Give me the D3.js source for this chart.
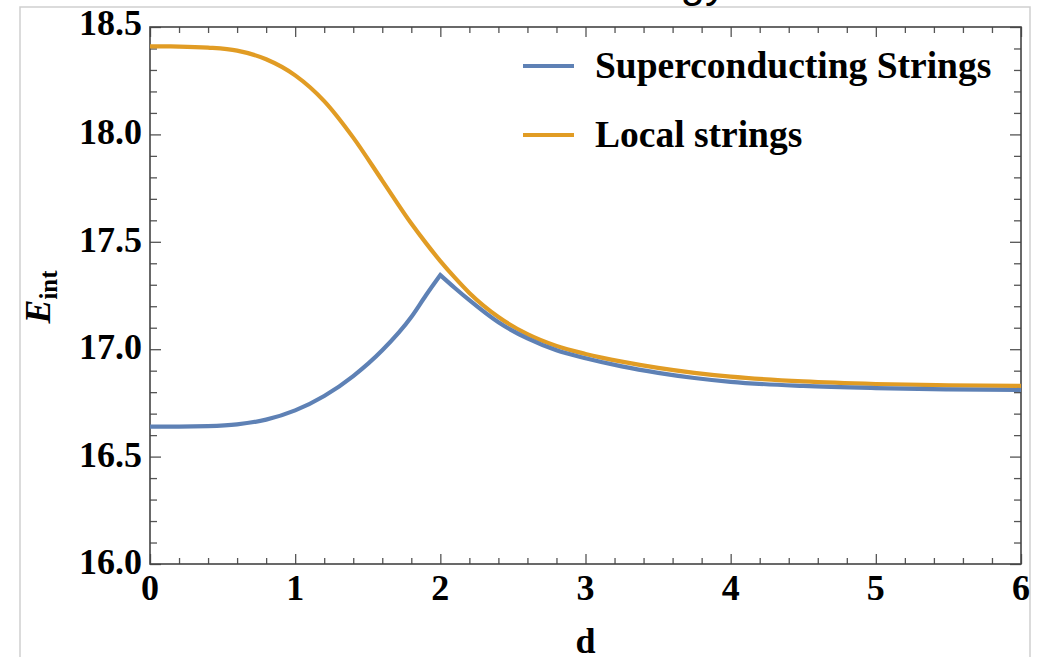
<!DOCTYPE html>
<html>
<head>
<meta charset="utf-8">
<script src="https://cdn.jsdelivr.net/npm/d3@7"></script>
<style>
  html, body { margin: 0; padding: 0; background: #fff; }
  svg { display: block; }
</style>
</head>
<body>
<svg id="chart" width="1048" height="657"></svg>
<script>
// ---- data ----
const dValues = [0, 0.2, 0.4, 0.6, 0.8, 1.0, 1.2, 1.4, 1.6, 1.8, 1.9, 2.0, 2.1, 2.2, 2.4, 2.6, 2.8, 3.0, 3.25, 3.5, 3.75, 4.0, 4.5, 5.0, 5.5, 6.0];
const superconducting = [16.640, 16.640, 16.642, 16.650, 16.672, 16.715, 16.782, 16.875, 16.995, 17.150, 17.250, 17.345, 17.285, 17.228, 17.125, 17.050, 16.995, 16.958, 16.920, 16.890, 16.866, 16.848, 16.829, 16.819, 16.813, 16.810];
const localStrings =    [18.410, 18.409, 18.404, 18.390, 18.350, 18.275, 18.155, 17.985, 17.785, 17.585, 17.495, 17.410, 17.333, 17.262, 17.150, 17.070, 17.015, 16.978, 16.942, 16.913, 16.890, 16.872, 16.850, 16.838, 16.832, 16.829];
const seriesNames = ["Superconducting Strings", "Local strings"];
const xTickValues = [0, 1, 2, 3, 4, 5, 6];
const yTickValues = [16.0, 16.5, 17.0, 17.5, 18.0, 18.5];
const titleText = "Energy";
const xLabel = "d";

// ---- layout ----
const svg = d3.select("#chart");
const pLeft = 150, pRight = 1021, pTop = 27, pBottom = 564;
const x = d3.scaleLinear().domain([0, 6]).range([pLeft, pRight]);
const y = d3.scaleLinear().domain([16, 18.5]).range([pBottom, pTop]);
const colors = ["#5E81B5", "#E19C24"];
const serif = "'Liberation Serif', 'Times New Roman', serif";

// outer light frame
svg.append("path")
  .attr("d", `M20,657 L20,7 L1030,7 L1030,657`)
  .attr("fill", "none").attr("stroke", "#cfcfcf").attr("stroke-width", 1.5);

// cropped title (only descenders visible)
svg.append("text")
  .attr("x", 727).attr("y", -3)
  .attr("text-anchor", "end")
  .attr("font-family", "'Liberation Sans', Arial, sans-serif")
  .attr("font-size", 44)
  .text(titleText);

// ticks via d3 axes
const xMinor = d3.range(0, 6.0001, 0.2).map(v => +v.toFixed(2)).filter(v => !xTickValues.some(t => Math.abs(t - v) < 1e-6));
const yMinor = d3.range(16, 18.5001, 0.1).map(v => +v.toFixed(2)).filter(v => !yTickValues.some(t => Math.abs(t - v) < 1e-6));

function tickStyle(g) {
  g.select(".domain").remove();
  g.selectAll(".tick line").attr("stroke", "#555").attr("stroke-width", 1.3);
  g.selectAll(".tick text").remove();
}
// bottom
svg.append("g").attr("transform", `translate(0,${pBottom})`)
  .call(d3.axisTop(x).tickValues(xTickValues).tickSizeInner(10).tickSizeOuter(0)).call(tickStyle);
svg.append("g").attr("transform", `translate(0,${pBottom})`)
  .call(d3.axisTop(x).tickValues(xMinor).tickSizeInner(6).tickSizeOuter(0)).call(tickStyle);
// top
svg.append("g").attr("transform", `translate(0,${pTop})`)
  .call(d3.axisBottom(x).tickValues(xTickValues).tickSizeInner(10).tickSizeOuter(0)).call(tickStyle);
svg.append("g").attr("transform", `translate(0,${pTop})`)
  .call(d3.axisBottom(x).tickValues(xMinor).tickSizeInner(6).tickSizeOuter(0)).call(tickStyle);
// left
svg.append("g").attr("transform", `translate(${pLeft},0)`)
  .call(d3.axisRight(y).tickValues(yTickValues).tickSizeInner(11).tickSizeOuter(0)).call(tickStyle);
svg.append("g").attr("transform", `translate(${pLeft},0)`)
  .call(d3.axisRight(y).tickValues(yMinor).tickSizeInner(7).tickSizeOuter(0)).call(tickStyle);
// right
svg.append("g").attr("transform", `translate(${pRight},0)`)
  .call(d3.axisLeft(y).tickValues(yTickValues).tickSizeInner(11).tickSizeOuter(0)).call(tickStyle);
svg.append("g").attr("transform", `translate(${pRight},0)`)
  .call(d3.axisLeft(y).tickValues(yMinor).tickSizeInner(7).tickSizeOuter(0)).call(tickStyle);

// frame
svg.append("rect")
  .attr("x", pLeft).attr("y", pTop).attr("width", pRight - pLeft).attr("height", pBottom - pTop)
  .attr("fill", "none").attr("stroke", "#444").attr("stroke-width", 1.6);

// tick labels
svg.append("g").selectAll("text").data(xTickValues).join("text")
  .attr("x", d => x(d)).attr("y", 600)
  .attr("text-anchor", "middle")
  .attr("font-family", serif).attr("font-weight", "bold").attr("font-size", 36)
  .text(d => d3.format("d")(d));
svg.append("g").selectAll("text").data(yTickValues).join("text")
  .attr("x", pLeft - 8).attr("y", d => y(d) + (d === 18.5 ? 8 : 10))
  .attr("text-anchor", "end")
  .attr("font-family", serif).attr("font-weight", "bold").attr("font-size", 36)
  .text(d => d3.format(".1f")(d));

// axis labels
svg.append("text")
  .attr("x", (pLeft + pRight) / 2).attr("y", 653)
  .attr("text-anchor", "middle")
  .attr("font-family", serif).attr("font-weight", "bold").attr("font-size", 36)
  .text(xLabel);
const yl = svg.append("text")
  .attr("transform", `translate(50,297) rotate(-90)`)
  .attr("text-anchor", "middle")
  .attr("font-family", serif).attr("font-weight", "bold").attr("font-size", 36);
yl.append("tspan").attr("font-style", "italic").text("E");
yl.append("tspan").attr("font-size", 25).attr("dy", 7).text("int");

// lines
const line = d3.line().x(d => x(d[0])).y(d => y(d[1])).curve(d3.curveMonotoneX);
const blue = dValues.map((d, i) => [d, superconducting[i]]);
const orange = dValues.map((d, i) => [d, localStrings[i]]);
const peakIdx = superconducting.indexOf(d3.max(superconducting));
const plot = svg.append("g");
plot.append("path")
  .attr("d", line(orange))
  .attr("fill", "none").attr("stroke", colors[1]).attr("stroke-width", 4.2);
plot.append("path")
  .attr("d", line(blue.slice(0, peakIdx + 1)) + line(blue.slice(peakIdx)).replace(/^M/, "L"))
  .attr("fill", "none").attr("stroke", colors[0]).attr("stroke-width", 4.2)
  .attr("stroke-linejoin", "miter");

// legend
const legendY = [66, 135];
const lg = svg.append("g");
seriesNames.forEach((name, i) => {
  lg.append("line").attr("x1", 523).attr("x2", 574).attr("y1", legendY[i]).attr("y2", legendY[i])
    .attr("stroke", colors[i]).attr("stroke-width", 4.2);
  lg.append("text").attr("x", 595).attr("y", legendY[i] + 12)
    .attr("font-family", serif).attr("font-weight", "bold").attr("font-size", 37.5)
    .text(name);
});
</script>
</body>
</html>
